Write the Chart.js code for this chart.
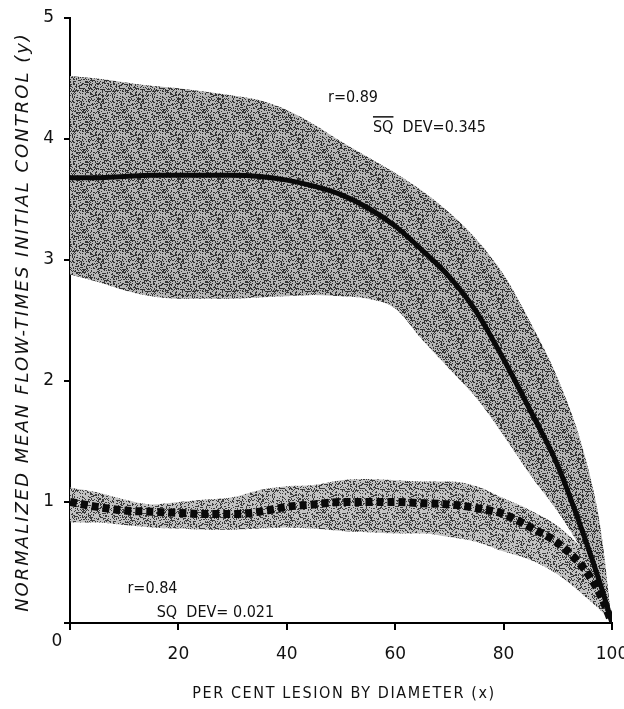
<!DOCTYPE html>
<html>
<head>
<meta charset="utf-8">
<script src="https://cdn.jsdelivr.net/npm/chart.js@4.4.1/dist/chart.umd.min.js"></script>
<style>
  html, body { margin: 0; padding: 0; background: #fff; }
  #wrap { width: 624px; height: 709px; }
</style>
</head>
<body>
<div id="wrap"><canvas id="flowChart" width="624" height="709"></canvas></div>
<script>
// per cent lesion (x)
const lesionPct = [0, 5, 10, 15, 20, 25, 30, 35, 40, 45, 50, 55, 60, 65, 70, 75, 80, 85, 90, 95, 98, 100];

// upper curve (solid) and its shaded band
const upperMean = [3.68, 3.68, 3.69, 3.70, 3.70, 3.70, 3.70, 3.69, 3.66, 3.61, 3.54, 3.43, 3.28, 3.08, 2.86, 2.57, 2.18, 1.75, 1.30, 0.70, 0.30, 0];
const upperHigh = [4.52, 4.50, 4.47, 4.44, 4.42, 4.39, 4.36, 4.32, 4.24, 4.12, 3.98, 3.85, 3.72, 3.57, 3.39, 3.17, 2.88, 2.48, 2.02, 1.38, 0.75, 0];
const upperLow  = [2.88, 2.82, 2.75, 2.70, 2.68, 2.68, 2.68, 2.69, 2.70, 2.71, 2.70, 2.68, 2.60, 2.34, 2.10, 1.86, 1.55, 1.22, 0.92, 0.55, 0.22, 0];

// lower curve (dotted) and its shaded band
const lowerMean = [1.00, 0.96, 0.93, 0.92, 0.91, 0.90, 0.90, 0.92, 0.96, 0.98, 1.00, 1.00, 1.00, 0.99, 0.98, 0.95, 0.90, 0.79, 0.66, 0.44, 0.22, 0];
const lowerHigh = [1.12, 1.08, 1.02, 0.98, 1.00, 1.02, 1.04, 1.10, 1.13, 1.14, 1.18, 1.19, 1.18, 1.17, 1.17, 1.13, 1.03, 0.93, 0.80, 0.58, 0.33, 0];
const lowerLow  = [0.83, 0.83, 0.81, 0.79, 0.78, 0.77, 0.77, 0.78, 0.79, 0.78, 0.76, 0.75, 0.74, 0.74, 0.71, 0.67, 0.59, 0.52, 0.40, 0.22, 0.10, 0];

const xTicks = [0, 20, 40, 60, 80, 100];
const yTicks = [0, 1, 2, 3, 4, 5];

const xTitle = 'PER CENT LESION BY DIAMETER (x)';
const yTitle = 'NORMALIZED MEAN FLOW-TIMES INITIAL CONTROL (y)';

const pts = (ys) => lesionPct.map((x, i) => ({ x: x, y: ys[i] }));

// stippled grey texture like the printed shading
function stipple(base, dot, density) {
    const c = document.createElement('canvas');
    c.width = 40; c.height = 40;
    const g = c.getContext('2d');
    g.fillStyle = base;
    g.fillRect(0, 0, 40, 40);
    g.fillStyle = dot;
    for (let y = 0; y < 40; y++) {
        for (let x = 0; x < 40; x++) {
            let h = (x * 73856093) ^ (y * 19349663) ^ (x * y * 83492791);
            h = (h >>> 0) % 100;
            if (h < density) g.fillRect(x, y, 1, 1);
        }
    }
    return g.createPattern(c, 'repeat');
}

const ctx = document.getElementById('flowChart').getContext('2d');
const upperShade = stipple('#b6b6b6', '#333', 36);
const lowerShade = stipple('#c2c2c2', '#3c3c3c', 32);

const notes = {
    id: 'notes',
    afterDraw(chart) {
        const c = chart.ctx;
        const sx = chart.scales.x, sy = chart.scales.y;
        c.save();
        c.fillStyle = '#111';
        c.textBaseline = 'middle';
        c.textAlign = 'left';
        c.font = '16px "DejaVu Sans Condensed", "DejaVu Sans", sans-serif';
        c.fillText('r=0.89', sx.getPixelForValue(47.6), sy.getPixelForValue(4.34));
        const sqx = sx.getPixelForValue(55.9), sqy = sy.getPixelForValue(4.09);
        c.fillText('SQ  DEV=0.345', sqx, sqy);
        const w = c.measureText('SQ').width;
        c.fillRect(sqx, sqy - 12, w, 1.5);
        c.fillText('r=0.84', sx.getPixelForValue(10.6), sy.getPixelForValue(0.28));
        c.fillText('SQ  DEV= 0.021', sx.getPixelForValue(16), sy.getPixelForValue(0.08));

        // origin label
        c.font = '17px "DejaVu Sans", sans-serif';
        c.textAlign = 'center';
        c.fillText('0', sx.left - 13, sy.bottom + 19);

        // axis titles, spaced out like the hand lettering
        c.font = '16px "DejaVu Sans Condensed", "DejaVu Sans", sans-serif';
        c.letterSpacing = '1.6px';
        c.fillText(xTitle, (sx.left + sx.right) / 2 + 3, 694);
        c.save();
        c.translate(23, 322);
        c.rotate(-Math.PI / 2);
        c.font = 'italic 18px "DejaVu Sans", sans-serif';
        c.letterSpacing = '2px';
        c.fillText(yTitle, 0, 0);
        c.restore();
        c.restore();
    }
};

new Chart(ctx, {
    type: 'line',
    data: {
        datasets: [
            {
                data: pts(upperMean),
                borderColor: '#0a0a0a',
                borderWidth: 5,
                pointRadius: 0,
                fill: false,
                cubicInterpolationMode: 'monotone'
            },
            {
                data: pts(lowerMean),
                borderColor: '#0a0a0a',
                borderWidth: 8,
                borderDash: [7, 4],
                borderCapStyle: 'butt',
                pointRadius: 0,
                fill: false,
                cubicInterpolationMode: 'monotone'
            },
            {
                data: pts(upperHigh),
                borderWidth: 0,
                borderColor: 'rgba(0,0,0,0)',
                pointRadius: 0,
                backgroundColor: upperShade,
                fill: '+1',
                cubicInterpolationMode: 'monotone'
            },
            {
                data: pts(upperLow),
                borderWidth: 0,
                borderColor: 'rgba(0,0,0,0)',
                pointRadius: 0,
                fill: false,
                cubicInterpolationMode: 'monotone'
            },
            {
                data: pts(lowerHigh),
                borderWidth: 0,
                borderColor: 'rgba(0,0,0,0)',
                pointRadius: 0,
                backgroundColor: lowerShade,
                fill: '+1',
                cubicInterpolationMode: 'monotone'
            },
            {
                data: pts(lowerLow),
                borderWidth: 0,
                borderColor: 'rgba(0,0,0,0)',
                pointRadius: 0,
                fill: false,
                cubicInterpolationMode: 'monotone'
            }
        ]
    },
    options: {
        responsive: false,
        animation: false,
        layout: { padding: { top: 18, right: 12, left: 0, bottom: 0 } },
        plugins: {
            legend: { display: false },
            tooltip: { enabled: false }
        },
        scales: {
            x: {
                type: 'linear',
                min: 0,
                max: 100,
                afterFit: (s) => { s.height = 86; s.paddingLeft = 0; s.paddingRight = 0; },
                afterBuildTicks: (s) => { s.ticks = xTicks.map(v => ({ value: v })); },
                grid: { drawOnChartArea: false, drawTicks: true, tickLength: 7, color: '#000', lineWidth: 2 },
                border: { color: '#000', width: 2 },
                ticks: {
                    color: '#111',
                    padding: 14,
                    maxRotation: 0,
                    font: { family: 'DejaVu Sans', size: 17 },
                    callback: (v) => v === 0 ? '' : v
                },
                title: { display: false }
            },
            y: {
                type: 'linear',
                min: 0,
                max: 5,
                afterFit: (s) => { s.width = 70; s.paddingTop = 0; s.paddingBottom = 0; },
                afterBuildTicks: (s) => { s.ticks = yTicks.map(v => ({ value: v })); },
                grid: { drawOnChartArea: false, drawTicks: true, tickLength: 6, color: '#000', lineWidth: 2 },
                border: { color: '#000', width: 2 },
                ticks: {
                    color: '#111',
                    padding: 10,
                    font: { family: 'DejaVu Sans', size: 17 },
                    callback: (v) => v === 0 ? '' : v
                },
                title: { display: false }
            }
        }
    },
    plugins: [notes]
});
</script>
</body>
</html>
